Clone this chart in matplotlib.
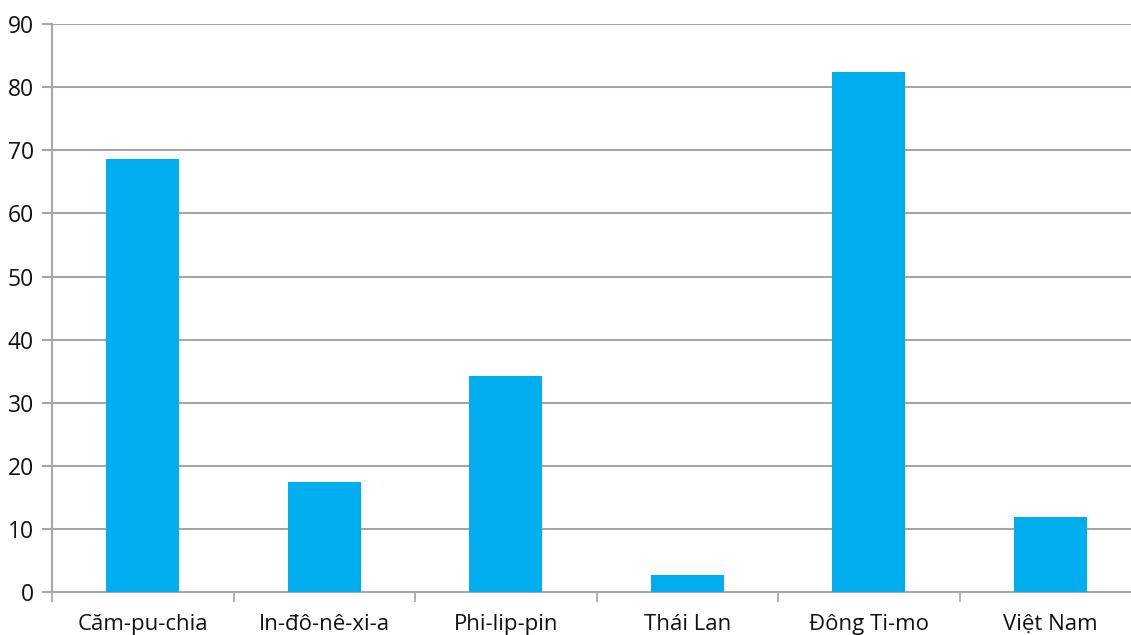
import matplotlib.pyplot as plt
import numpy as np

countries = ["Căm-pu-chia", "In-đô-nê-xi-a", "Phi-lip-pin", "Thái Lan", "Đông Ti-mo", "Việt Nam"]
values = [68.6, 17.4, 34.2, 2.8, 82.4, 11.9]
yticks = list(range(0, 100, 10))

plt.rcParams['font.family'] = ['Open Sans', 'DejaVu Sans']

grid_col = '#a6a6a6'
fig = plt.figure(figsize=(11.31, 6.35), dpi=100)
ax = fig.add_axes([52 / 1131, 42.7 / 635, 1089 / 1131, 568.3 / 635])

x = np.arange(len(countries))
ax.bar(x, values, width=0.4, color='#00aeef', zorder=3)

ax.set_xlim(-0.5, len(countries) - 0.5)
ax.set_ylim(0, 90)
ax.set_yticks(yticks)
ax.yaxis.grid(True, color=grid_col, linewidth=1.5, zorder=0)

# labels sit in the middle of each category, tick marks on the boundaries
ax.set_xticks(x)
ax.set_xticklabels(countries)
ax.set_xticks(np.arange(len(countries) + 1) - 0.5, minor=True)
ax.tick_params(axis='x', which='major', length=0, pad=15.5, labelsize=16, colors='#111111')
ax.tick_params(axis='x', which='minor', length=7, width=1.2, color=grid_col)
ax.tick_params(axis='y', length=7, width=1.5, color=grid_col, pad=6, labelsize=16.5, labelcolor='#111111')

for side in ['top', 'right']:
    ax.spines[side].set_visible(False)
for side in ['left', 'bottom']:
    ax.spines[side].set_color(grid_col)
    ax.spines[side].set_linewidth(1.5)

fig.savefig('out.png', dpi=100)
